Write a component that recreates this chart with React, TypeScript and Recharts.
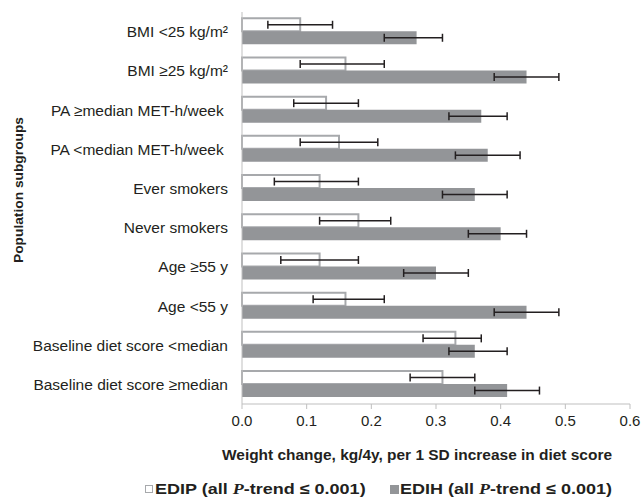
import React from 'react';
import { BarChart, Bar, XAxis, YAxis, ErrorBar, Legend } from 'recharts';

const categories = [
  'BMI <25 kg/m²',
  'BMI ≥25 kg/m²',
  'PA ≥median MET-h/week\u00A0',
  'PA <median MET-h/week\u00A0',
  'Ever smokers',
  'Never smokers',
  'Age ≥55 y',
  'Age <55 y',
  'Baseline diet score <median',
  'Baseline diet score ≥median',
];
const edip = [0.09, 0.16, 0.13, 0.15, 0.12, 0.18, 0.12, 0.16, 0.33, 0.31];
const edipLow = [0.04, 0.09, 0.08, 0.09, 0.05, 0.12, 0.06, 0.11, 0.28, 0.26];
const edipHigh = [0.14, 0.22, 0.18, 0.21, 0.18, 0.23, 0.18, 0.22, 0.37, 0.36];
const edih = [0.27, 0.44, 0.37, 0.38, 0.36, 0.40, 0.30, 0.44, 0.36, 0.41];
const edihLow = [0.22, 0.39, 0.32, 0.33, 0.31, 0.35, 0.25, 0.39, 0.32, 0.36];
const edihHigh = [0.31, 0.49, 0.41, 0.43, 0.41, 0.44, 0.35, 0.49, 0.41, 0.46];
const xTicks = [0, 0.1, 0.2, 0.3, 0.4, 0.5, 0.6];

const data = categories.map((name, i) => ({
  name,
  edip: edip[i],
  edih: edih[i],
  edipErr: [edip[i] - edipLow[i], edipHigh[i] - edip[i]],
  edihErr: [edih[i] - edihLow[i], edihHigh[i] - edih[i]],
}));

const TEXT = '#231f20';
const FONT = '"Liberation Sans", Arial, sans-serif';
const EDIH_FILL = '#939598';
const EDIP_STROKE = '#a7a9ac';
const AXIS = '#bfbfbf';

const legendText: React.CSSProperties = {
  position: 'absolute',
  top: 3,
  transform: 'scaleX(1.2)',
  transformOrigin: 'left center',
  whiteSpace: 'nowrap',
  lineHeight: '20px',
};
const italicP: React.CSSProperties = { fontFamily: '"Liberation Serif", serif', fontStyle: 'italic' };

const LegendContent = () => (
  <div
    style={{
      position: 'relative',
      width: 643,
      height: 26,
      fontFamily: FONT,
      fontWeight: 'bold',
      fontSize: 15,
      color: TEXT,
    }}
  >
    <span style={{ position: 'absolute', left: 145, top: 9, width: 6, height: 6, border: `1.5px solid ${EDIP_STROKE}`, background: '#fff' }} />
    <span style={{ ...legendText, left: 155 }}>
      EDIP (all <span style={italicP}>P</span>-trend ≤ 0.001)
    </span>
    <span style={{ position: 'absolute', left: 390, top: 9, width: 9, height: 9, background: EDIH_FILL }} />
    <span style={{ ...legendText, left: 400 }}>
      EDIH (all <span style={italicP}>P</span>-trend ≤ 0.001)
    </span>
  </div>
);

const XTitle = () => (
  <text
    x={417}
    y={455}
    textAnchor="middle"
    dominantBaseline="central"
    fontFamily={FONT}
    fontWeight="bold"
    fontSize={14.5}
    fill={TEXT}
    textLength={390}
    lengthAdjust="spacingAndGlyphs"
  >
    Weight change, kg/4y, per 1 SD increase in diet score
  </text>
);

const YTitle = () => (
  <text
    x={18}
    y={190}
    textAnchor="middle"
    dominantBaseline="central"
    fontFamily={FONT}
    fontWeight="bold"
    fontSize={13}
    fill={TEXT}
    textLength={146}
    lengthAdjust="spacingAndGlyphs"
    transform="rotate(-90 18 190)"
  >
    Population subgroups
  </text>
);

export default function App() {
  return (
    <div style={{ position: 'absolute', left: 0, top: 0, width: 643, height: 504, background: '#fff' }}>
      <BarChart
        width={643}
        height={504}
        data={data}
        layout="vertical"
        margin={{ top: 12, right: 13, bottom: 2, left: 0 }}
        barCategoryGap="16%"
        barGap={0}
      >
        <XAxis
          type="number"
          domain={[0, 0.6]}
          ticks={xTicks}
          tickFormatter={(v: number) => v.toFixed(1)}
          stroke={AXIS}
          tickLine={{ stroke: AXIS }}
          tickSize={5}
          tickMargin={6}
          height={72}
          tick={{ fill: TEXT, fontSize: 15, fontFamily: FONT }}
          label={<XTitle />}
        />
        <YAxis
          type="category"
          dataKey="name"
          width={242}
          stroke={AXIS}
          tickLine={false}
          tickSize={0}
          tickMargin={14}
          interval={0}
          tick={{ fill: TEXT, fontSize: 15.5, fontFamily: FONT }}
          label={<YTitle />}
        />
        <Legend verticalAlign="bottom" height={26} wrapperStyle={{ left: 0, width: 643 }} content={<LegendContent />} />
        <Bar dataKey="edip" name="EDIP" fill="#ffffff" stroke={EDIP_STROKE} strokeWidth={2} isAnimationActive={false}>
          <ErrorBar dataKey="edipErr" direction="x" width={4} stroke={TEXT} strokeWidth={1.5} />
        </Bar>
        <Bar dataKey="edih" name="EDIH" fill={EDIH_FILL} isAnimationActive={false}>
          <ErrorBar dataKey="edihErr" direction="x" width={4} stroke={TEXT} strokeWidth={1.5} />
        </Bar>
      </BarChart>
    </div>
  );
}
